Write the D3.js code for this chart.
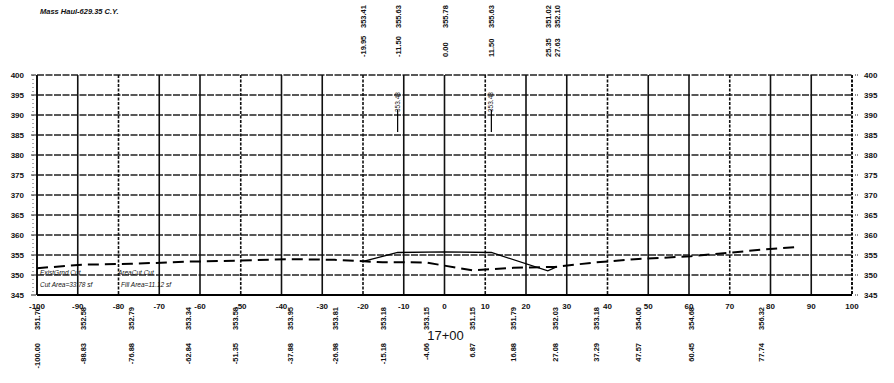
<!DOCTYPE html>
<html>
<head>
<meta charset="utf-8">
<script src="https://cdn.jsdelivr.net/npm/d3@7"></script>
<style>
  body { margin: 0; background: #fff; }
  svg { display: block; }
  text { font-family: "Liberation Sans", Arial, sans-serif; fill: #111; }
</style>
</head>
<body>
<div id="chart"></div>
<script>
// --- data ---
const title = "Mass Haul-629.35 C.Y.";
const station = "17+00";

// existing ground (dashed); the last point is past the labelled shots
const groundOffsets = [-100.00, -88.83, -76.88, -62.84, -51.35, -37.88, -26.98, -15.18, -4.66, 6.87, 16.88, 27.08, 37.29, 47.57, 60.45, 77.74, 86.50];
const groundElevs   = [351.70, 352.58, 352.79, 353.34, 353.58, 353.95, 353.81, 353.18, 353.15, 351.15, 351.79, 352.03, 353.18, 354.00, 354.68, 356.32, 357.00];
const groundLabelled = 16;

// proposed section (solid)
const designOffsets = [-19.95, -11.50, 0.00, 11.50, 25.35, 27.63];
const designElevs   = [353.41, 355.63, 355.78, 355.63, 351.02, 352.10];

const xTicks = d3.range(-100, 101, 10);
const yTicks = d3.range(345, 401, 5);

const markerOffsets = [-11.50, 11.50];
const markerText = "353.43";

const areaRow1 = ["ExistGrnd Cut", "AreaCut Cut"];
const areaRow2 = ["Cut Area=33.78 sf", "Fill Area=11.12 sf"];

// --- layout ---
const width = 894, height = 383;
const svg = d3.select("#chart").append("svg")
    .attr("width", width)
    .attr("height", height);

const x = d3.scaleLinear().domain([-100, 100]).range([37, 852]);
const y = d3.scaleLinear().domain([345, 400]).range([295, 75]);

// title
svg.append("text")
    .attr("x", 40).attr("y", 14)
    .style("font-size", "7.5px")
    .style("font-weight", "bold")
    .style("font-style", "italic")
    .text(title);

// horizontal grid
svg.append("g").selectAll("line")
    .data(yTicks)
    .enter().append("line")
    .attr("x1", x(-100)).attr("x2", x(100))
    .attr("y1", d => y(d)).attr("y2", d => y(d))
    .attr("stroke", "#222")
    .attr("stroke-width", 1.3)
    .attr("stroke-dasharray", "7,1.5");

// vertical grid
svg.append("g").selectAll("line")
    .data(xTicks)
    .enter().append("line")
    .attr("x1", d => x(d)).attr("x2", d => x(d))
    .attr("y1", y(400)).attr("y2", y(345))
    .attr("stroke", "#111")
    .attr("stroke-width", d => (d === -100 || d === 100) ? 2 : 1.6)
    .attr("stroke-dasharray", (d, i) => (i % 3 === 2) ? "3,1.5" : null);

// bottom border, heavier
svg.append("line")
    .attr("x1", x(-100)).attr("x2", x(100))
    .attr("y1", y(345)).attr("y2", y(345))
    .attr("stroke", "#000").attr("stroke-width", 2.2);

// left dotted tick rail + ticks
svg.append("line")
    .attr("x1", 33).attr("x2", 33)
    .attr("y1", y(400)).attr("y2", y(345))
    .attr("stroke", "#333").attr("stroke-width", 0.8)
    .attr("stroke-dasharray", "1,3");
svg.append("g").selectAll("line")
    .data(yTicks)
    .enter().append("line")
    .attr("x1", 31).attr("x2", 36)
    .attr("y1", d => y(d)).attr("y2", d => y(d))
    .attr("stroke", "#222").attr("stroke-width", 1);
svg.append("g").selectAll("line")
    .data(yTicks)
    .enter().append("line")
    .attr("x1", 855).attr("x2", 859)
    .attr("y1", d => y(d)).attr("y2", d => y(d))
    .attr("stroke", "#222").attr("stroke-width", 1)
    .attr("stroke-dasharray", "1,1");

// y labels, both sides
const yl = svg.append("g").style("font-size", "8px").style("font-weight", "bold");
yl.selectAll(".yl")
    .data(yTicks)
    .enter().append("text")
    .attr("x", 24).attr("y", d => y(d) + 3)
    .attr("text-anchor", "end")
    .text(d => d);
yl.selectAll(".yr")
    .data(yTicks)
    .enter().append("text")
    .attr("x", 864).attr("y", d => y(d) + 3)
    .text(d => d);

// x labels
svg.append("g").style("font-size", "8px").style("font-weight", "bold")
    .selectAll("text")
    .data(xTicks)
    .enter().append("text")
    .attr("x", d => x(d)).attr("y", 309)
    .attr("text-anchor", "middle")
    .text(d => d);

// station
svg.append("text")
    .attr("x", x(0) + 1).attr("y", 340)
    .attr("text-anchor", "middle")
    .style("font-size", "13px")
    .text(station);

// existing ground line
const ground = groundOffsets.map((o, i) => [o, groundElevs[i]]);
const design = designOffsets.map((o, i) => [o, designElevs[i]]);
const line = d3.line().x(d => x(d[0])).y(d => y(d[1]));

svg.append("path")
    .datum(ground)
    .attr("d", line)
    .attr("fill", "none")
    .attr("stroke", "#000")
    .attr("stroke-width", 2)
    .attr("stroke-dasharray", "11,6");

svg.append("path")
    .datum(design)
    .attr("d", line)
    .attr("fill", "none")
    .attr("stroke", "#000")
    .attr("stroke-width", 1.3);

// rotated point labels (reading upward)
function vlabels(offsets, texts, yy, anchor) {
    svg.append("g").style("font-size", "7.5px").style("font-weight", "bold")
        .selectAll("text")
        .data(offsets)
        .enter().append("text")
        .attr("transform", (d) => `translate(${x(d) + 3},${yy}) rotate(-90)`)
        .attr("text-anchor", anchor)
        .text((d, i) => texts[i]);
}
const gOff = groundOffsets.slice(0, groundLabelled);
const gEl = groundElevs.slice(0, groundLabelled);
vlabels(designOffsets, designElevs.map(v => v.toFixed(2)), 28, "start");
vlabels(designOffsets, designOffsets.map(v => v.toFixed(2)), 57, "start");
vlabels(gOff, gEl.map(v => v.toFixed(2)), 307, "end");
vlabels(gOff, gOff.map(v => v.toFixed(2)), 343, "end");

// leader markers near top
markerOffsets.forEach(o => {
    svg.append("text")
        .attr("transform", `translate(${x(o) + 2},112) rotate(-90)`)
        .style("font-size", "6.5px")
        .text(markerText);
    svg.append("line")
        .attr("x1", x(o)).attr("x2", x(o))
        .attr("y1", 110).attr("y2", 132)
        .attr("stroke", "#000").attr("stroke-width", 1.2);
});

// area notes, bottom left
const notes = svg.append("g").style("font-size", "6.5px").style("font-style", "italic");
notes.selectAll(".r1")
    .data(areaRow1)
    .enter().append("text")
    .attr("x", (d, i) => i === 0 ? 40 : 118)
    .attr("y", 275)
    .text(d => d);
notes.selectAll(".r2")
    .data(areaRow2)
    .enter().append("text")
    .attr("x", (d, i) => i === 0 ? 40 : 121)
    .attr("y", 287)
    .text(d => d);
</script>
</body>
</html>
